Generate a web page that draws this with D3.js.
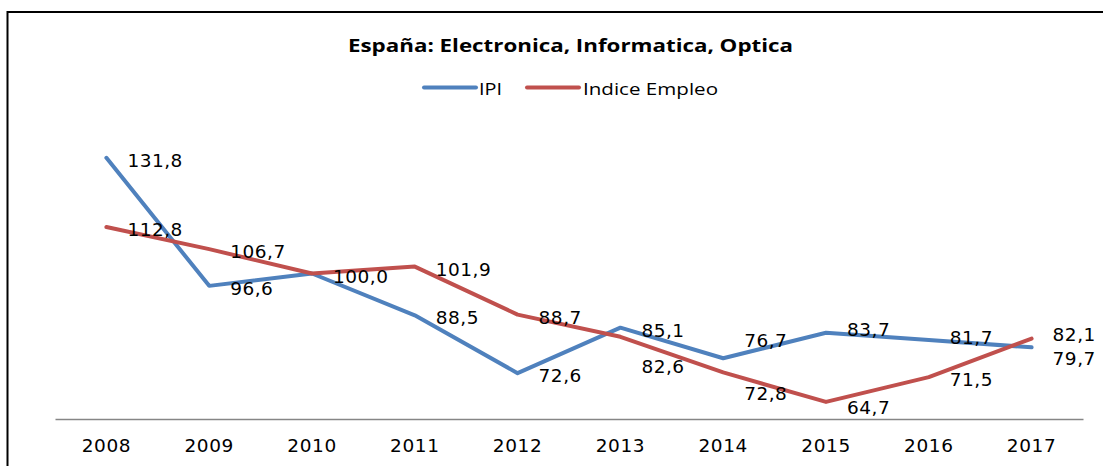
<!DOCTYPE html>
<html>
<head>
<meta charset="UTF-8">
<title>España: Electronica, Informatica, Optica</title>
<style type="text/css">
	body { margin: 0; background: #fff; }
	.lbl { font-family: "DejaVu Sans", Verdana, sans-serif; font-size: 18.5px; fill: #000; }
</style>
</head>
<body>
<svg class="chart"></svg>

<script src="https://cdn.jsdelivr.net/npm/d3@7"></script>
<script type="text/javascript">
	// datos
	var years = ["2008", "2009", "2010", "2011", "2012", "2013", "2014", "2015", "2016", "2017"];
	var ipi = [131.8, 96.6, 100.0, 88.5, 72.6, 85.1, 76.7, 83.7, 81.7, 79.7];
	var empleo = [112.8, 106.7, 100.0, 101.9, 88.7, 82.6, 72.8, 64.7, 71.5, 82.1];
	var seriesNames = ["IPI", "Indice Empleo"];

	// desplazamiento vertical de etiquetas (movidas a mano en el original)
	var ipiNudge = [0, 0, 0, 0, 0, 0, -20, -6, -5, 8];
	var empNudge = [0, 0, 0, 0, 0, 27, 18, 3, 0, -7];

	var width = 1103, height = 466;
	var colors = ["#4F81BD", "#C0504D"];

	var svg = d3.select(".chart")
		.attr("width", width)
		.attr("height", height);

	svg.append("rect")
		.attr("width", width).attr("height", height)
		.attr("fill", "#fff");

	// marco
	svg.append("rect")
		.attr("x", 7.5).attr("y", 12)
		.attr("width", width + 20).attr("height", height + 20)
		.attr("fill", "none")
		.attr("stroke", "#000")
		.attr("stroke-width", 2);

	var x = d3.scaleBand().domain(years).range([55, 1083]);
	var y = d3.scaleLinear().domain([60, 140]).range([419, 128]);
	var cx = function(d) { return x(d) + x.bandwidth() / 2; };

	// titulo
	svg.append("text")
		.attr("x", 348).attr("y", 51.5)
		.attr("textLength", 445)
		.attr("lengthAdjust", "spacingAndGlyphs")
		.style("font-family", "'Open Sans', sans-serif")
		.style("font-weight", "bold")
		.style("font-size", "18.6px")
		.text("España: Electronica, Informatica, Optica");

	// leyenda
	var legend = [
		{ x1: 424, x2: 476, tx: 479, tw: 23 },
		{ x1: 527, x2: 579, tx: 583, tw: 135 }
	];
	var g_leg = svg.append("g");
	legend.forEach(function(l, i) {
		g_leg.append("line")
			.attr("x1", l.x1).attr("x2", l.x2)
			.attr("y1", 87.5).attr("y2", 87.5)
			.attr("stroke", colors[i])
			.attr("stroke-width", 4)
			.attr("stroke-linecap", "round");
		g_leg.append("text")
			.attr("x", l.tx).attr("y", 95)
			.attr("textLength", l.tw)
			.attr("lengthAdjust", "spacingAndGlyphs")
			.style("font-family", "'Open Sans', sans-serif")
			.style("font-size", "16.4px")
			.text(seriesNames[i]);
	});

	// eje x
	var axis = svg.append("g")
		.attr("transform", "translate(0,419)")
		.call(d3.axisBottom(x).tickSize(0).tickPadding(20));
	axis.select(".domain")
		.attr("stroke", "#868686")
		.attr("stroke-width", 1.5);
	axis.selectAll(".tick text")
		.attr("class", "lbl")
		.style("font-family", "'DejaVu Sans', Verdana, sans-serif")
		.style("font-size", "18.5px")
		.style("letter-spacing", "0.6px")
		.attr("fill", "#000");

	// lineas
	var line = d3.line()
		.x(function(d, i) { return cx(years[i]); })
		.y(function(d) { return y(d); });

	[ipi, empleo].forEach(function(vals, s) {
		svg.append("path")
			.datum(vals)
			.attr("d", line)
			.attr("fill", "none")
			.attr("stroke", colors[s])
			.attr("stroke-width", 4)
			.attr("stroke-linejoin", "round")
			.attr("stroke-linecap", "round");
	});

	// etiquetas (si IPI coincide con empleo, solo una etiqueta)
	[[ipi, ipiNudge, empleo], [empleo, empNudge, null]].forEach(function(set) {
		var pts = set[0].map(function(v, i) { return { v: v, i: i }; })
			.filter(function(p) { return !set[2] || set[2][p.i] !== p.v; });
		svg.append("g").selectAll("text")
			.data(pts)
			.enter().append("text")
			.attr("class", "lbl")
			.attr("x", function(p) { return cx(years[p.i]) + 21; })
			.attr("y", function(p) { return y(p.v) + 2.5 + set[1][p.i]; })
			.attr("dy", "0.36em")
			.style("letter-spacing", "0.5px")
			.text(function(p) { return p.v.toFixed(1).replace(".", ","); });
	});
</script>
</body>
</html>
